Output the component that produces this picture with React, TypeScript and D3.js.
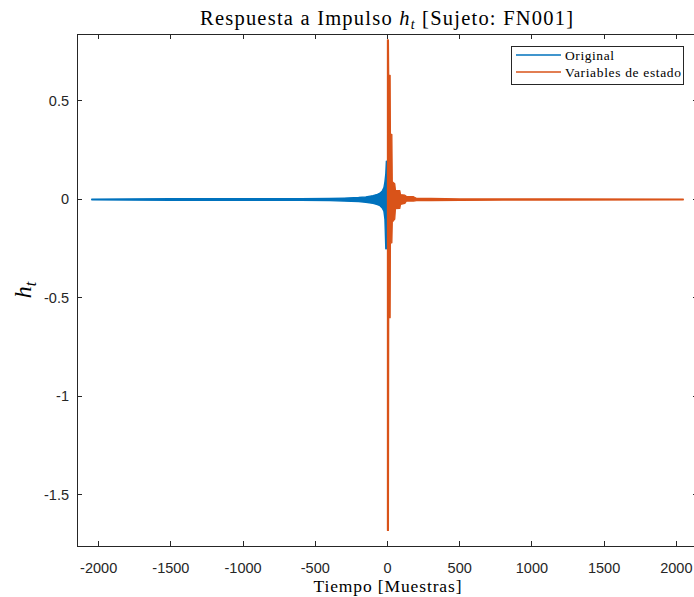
import React from "react";
import * as d3 from "d3";

// Tick labels
const xTicks = [-2000, -1500, -1000, -500, 0, 500, 1000, 1500, 2000];
const yTicks = [0.5, 0, -0.5, -1, -1.5];

// "Original" impulse response envelope (sample index, upper, lower)
const blueN = [-2048, -1800, -1500, -1200, -1000, -800, -600, -400, -300, -200, -150, -100, -70, -52, -35, -25, -18, -12, -8, -4, -1, 2, 8];
const blueHi = [0.002, 0.003, 0.004, 0.004, 0.004, 0.004, 0.004, 0.005, 0.007, 0.01, 0.013, 0.02, 0.026, 0.032, 0.045, 0.06, 0.09, 0.13, 0.195, 0.19, 0.15, 0.08, 0.02];
const blueLo = [-0.002, -0.003, -0.004, -0.005, -0.005, -0.005, -0.005, -0.006, -0.008, -0.011, -0.014, -0.02, -0.026, -0.032, -0.045, -0.06, -0.1, -0.25, -0.25, -0.2, -0.16, -0.08, -0.02];

// "Variables de estado" impulse response envelope
const orangeN = [0, 6, 8, 18, 20, 30, 33, 50, 55, 85, 90, 120, 130, 180, 200, 300, 500, 800, 1200, 2048];
const orangeHi = [0.81, 0.81, 0.63, 0.63, 0.33, 0.33, 0.09, 0.08, 0.046, 0.045, 0.025, 0.022, 0.016, 0.014, 0.006, 0.005, 0.003, 0.003, 0.003, 0.002];
const orangeLo = [-1.68, -1.68, -0.6, -0.6, -0.22, -0.22, -0.115, -0.1, -0.046, -0.045, -0.025, -0.02, -0.008, -0.008, -0.006, -0.006, -0.005, -0.003, -0.003, -0.002];

const seriesNames = ["Original", "Variables de estado"];
const legendTextWidths = [49, 116];
const colors = ["#0072BD", "#D95319"];

const W = 694;
const H = 597;
const L = 77, R = 698, T = 34, B = 546;

export default function App() {
  const x = d3.scaleLinear().domain([-2150, 2150]).range([L, R]);
  const y = d3.scaleLinear().domain([-1.759, 0.84]).range([B, T]);

  const mk = (N: number[], hi: number[], lo: number[]) =>
    d3
      .area<number>()
      .x((i) => x(N[i]))
      .y0((i) => y(lo[i]))
      .y1((i) => y(hi[i]))(d3.range(N.length)) || "";

  const bluePath = mk(blueN, blueHi, blueLo);
  const orangePath = mk(orangeN, orangeHi, orangeLo);
  const axisColor = "#262626";
  const tickLen = 5;
  const sans = "'Liberation Sans', Arial, sans-serif";
  const serif = "'Liberation Serif', 'Times New Roman', serif";

  return (
    <div style={{ position: "absolute", left: 0, top: 0 }}>
      <svg width={W} height={H} style={{ display: "block", background: "#fff" }}>
        <defs>
          <clipPath id="plotclip">
            <rect x={L} y={T} width={R - L} height={B - T} />
          </clipPath>
        </defs>
        <rect x={0} y={0} width={W} height={H} fill="#fff" />
        <g clipPath="url(#plotclip)">
          <path d={bluePath} fill={colors[0]} stroke={colors[0]} strokeWidth={1.3} strokeLinejoin="round" />
          <path d={orangePath} fill={colors[1]} stroke={colors[1]} strokeWidth={1.3} strokeLinejoin="round" />
        </g>
        {/* axes box */}
        <g stroke={axisColor} strokeWidth={1} fill="none" shapeRendering="crispEdges">
          <line x1={L} x2={R} y1={B} y2={B} />
          <line x1={L} x2={R} y1={T} y2={T} />
          <line x1={L} x2={L} y1={T} y2={B} />
          <line x1={R} x2={R} y1={T} y2={B} />
          {xTicks.map((t) => (
            <g key={"xt" + t}>
              <line x1={x(t)} x2={x(t)} y1={B} y2={B - tickLen} />
              <line x1={x(t)} x2={x(t)} y1={T} y2={T + tickLen} />
            </g>
          ))}
          {yTicks.map((t) => (
            <g key={"yt" + t}>
              <line x1={L} x2={L + tickLen} y1={y(t)} y2={y(t)} />
              <line x1={R} x2={R - tickLen} y1={y(t)} y2={y(t)} />
            </g>
          ))}
        </g>
        {xTicks.map((t) => (
          <text key={"xl" + t} x={x(t)} y={573} textAnchor="middle" fontFamily={sans} fontSize={14.5} fill={axisColor}>
            {t}
          </text>
        ))}
        {yTicks.map((t) => (
          <text key={"yl" + t} x={69} y={y(t) + 5} textAnchor="end" fontFamily={sans} fontSize={14.5} fill={axisColor}>
            {t}
          </text>
        ))}
        {/* title */}
        <text x={(L + R) / 2 - 1} y={25} textAnchor="middle" fontFamily={serif} fontSize={20.5} fill="#000" textLength={373} lengthAdjust="spacing">
          Respuesta a Impulso <tspan fontStyle="italic">h</tspan>
          <tspan fontStyle="italic" fontSize={14} dy={4}>t</tspan>
          <tspan dy={-4}> [Sujeto: FN001]</tspan>
        </text>
        {/* x label */}
        <text x={(L + R) / 2} y={592} textAnchor="middle" fontFamily={serif} fontSize={17.5} fill="#000" textLength={148} lengthAdjust="spacing">
          Tiempo [Muestras]
        </text>
        {/* y label */}
        <text transform="translate(31,290) rotate(-90)" textAnchor="middle" fontFamily={serif} fontSize={24} fill="#000">
          <tspan fontStyle="italic">h</tspan>
          <tspan fontStyle="italic" fontSize={16} dy={5}>t</tspan>
        </text>
        {/* legend */}
        <g>
          <rect x={511.5} y={46.5} width={172} height={38} fill="#fff" stroke={axisColor} strokeWidth={1} />
          {seriesNames.map((name, i) => (
            <g key={name}>
              <line x1={516} x2={561} y1={55 + i * 17} y2={55 + i * 17} stroke={colors[i]} strokeWidth={1.5} />
              <text x={565} y={59.5 + i * 17} fontFamily={serif} fontSize={13.5} fill="#000" textLength={legendTextWidths[i]} lengthAdjust="spacing">
                {name}
              </text>
            </g>
          ))}
        </g>
      </svg>
    </div>
  );
}
